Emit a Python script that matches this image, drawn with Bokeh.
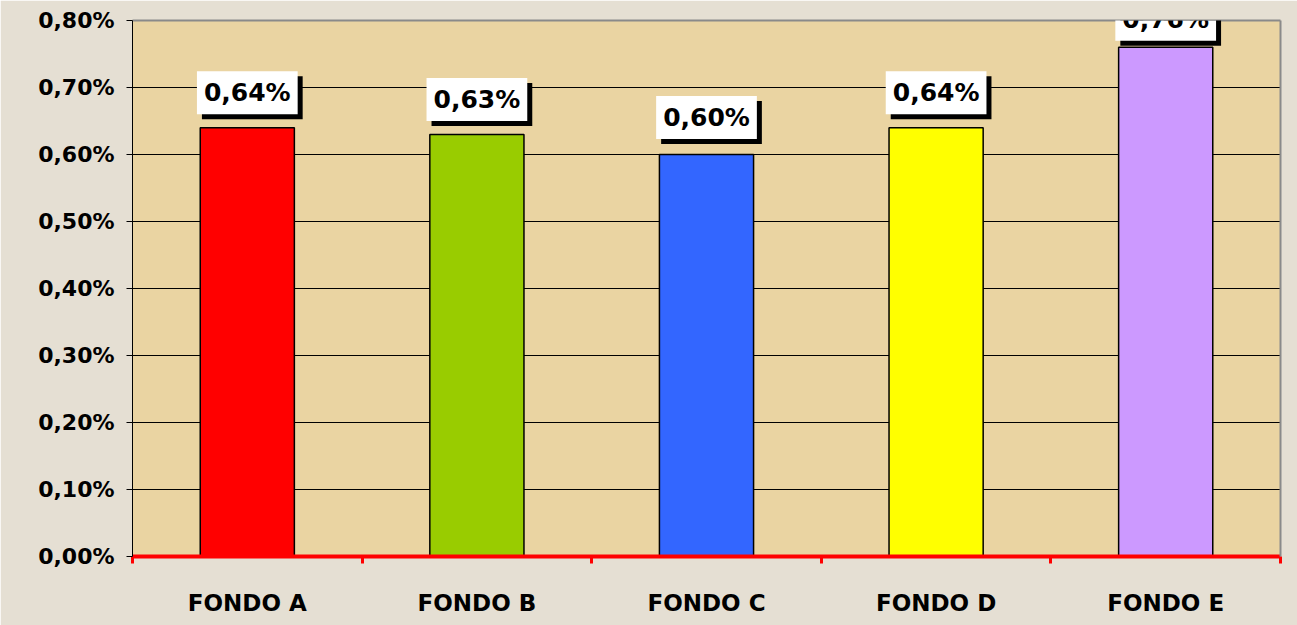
from bokeh.plotting import figure
from bokeh.models import ColumnDataSource, Range1d, FixedTicker, Label, LinearAxis
from bokeh.embed import file_html
from bokeh.resources import INLINE

# ---- data ----
categories = ["FONDO A", "FONDO B", "FONDO C", "FONDO D", "FONDO E"]
values = [0.64, 0.63, 0.60, 0.64, 0.76]          # percent
value_labels = ["0,64%", "0,63%", "0,60%", "0,64%", "0,76%"]
bar_colors = ["#ff0000", "#99cc00", "#3366ff", "#ffff00", "#cc99ff"]
y_ticks = [0.0, 0.1, 0.2, 0.3, 0.4, 0.5, 0.6, 0.7, 0.8]
y_tick_labels = ["0,00%", "0,10%", "0,20%", "0,30%", "0,40%", "0,50%", "0,60%", "0,70%", "0,80%"]

# style: screen-pixel lift of each value box above its bar
label_lift = [35, 35, 37, 35, 28]

FONT = "DejaVu Sans"

xs = [i + 0.5 for i in range(len(categories))]
src = ColumnDataSource(dict(x=xs, top=values, color=bar_colors, label=value_labels))

p = figure(width=1297, height=625, output_backend="svg", toolbar_location=None,
           x_range=Range1d(0, len(categories)), y_range=Range1d(0, 0.8),
           min_border_left=132, min_border_right=17, min_border_top=20, min_border_bottom=69)
p.background_fill_color = "#ead4a2"
p.border_fill_color = "#e5dfd3"
p.outline_line_color = None

p.vbar(x="x", top="top", width=0.41, bottom=0, fill_color="color",
       line_color="#000000", line_width=1.5, source=src)

# grey frame border on top and right (drawn as bare axes, beneath annotations)
for side in ("above", "right"):
    ax = LinearAxis(ticker=FixedTicker(ticks=[]), axis_line_color="#8a8a8a", axis_line_width=2,
                    major_tick_line_color=None, minor_tick_line_color=None,
                    major_label_text_font_size="0px", major_label_standoff=0)
    p.add_layout(ax, side)

# y axis
p.yaxis[0].ticker = FixedTicker(ticks=y_ticks)
p.yaxis[0].major_label_overrides = dict(zip(y_ticks, y_tick_labels))
p.yaxis[0].axis_line_color = "#000000"
p.yaxis[0].axis_line_width = 1
p.yaxis[0].major_tick_line_color = "#000000"
p.yaxis[0].major_tick_out = 6
p.yaxis[0].major_tick_in = 0
p.yaxis[0].minor_tick_line_color = None
p.yaxis[0].major_label_text_font = FONT
p.yaxis[0].major_label_text_font_style = "bold"
p.yaxis[0].major_label_text_font_size = "22px"
p.yaxis[0].major_label_text_color = "#000000"
p.yaxis[0].major_label_standoff = 12

# x axis
xa = p.below[0]
xa.ticker = FixedTicker(ticks=xs, minor_ticks=list(range(len(categories) + 1)))
xa.major_label_overrides = dict(zip(xs, categories))
xa.axis_line_color = "#ff0000"
xa.axis_line_width = 4
xa.major_tick_line_color = None
xa.minor_tick_line_color = "#ff0000"
xa.minor_tick_line_width = 3
xa.minor_tick_out = 7
xa.minor_tick_in = 0
xa.major_label_text_font = FONT
xa.major_label_text_font_style = "bold"
xa.major_label_text_font_size = "23px"
xa.major_label_text_color = "#000000"
xa.major_label_standoff = 26

p.xgrid.grid_line_color = None
p.ygrid.grid_line_color = "#000000"
p.ygrid.grid_line_width = 1

# value labels: shadow + white box (annotations, not clipped by the frame)
for xv, yv, lab, lift in zip(xs, values, value_labels, label_lift):
    for dx, dy, fill in ((5, lift - 5, "#000000"), (0, lift, "#ffffff")):
        p.add_layout(Label(x=xv, y=yv, text=lab, x_offset=dx, y_offset=dy,
                           text_align="center", text_baseline="middle",
                           text_font=FONT, text_font_style="bold", text_font_size="25px",
                           text_color="#000000", background_fill_color=fill,
                           padding=7))

open("out.html", "w").write(file_html(p, INLINE))
